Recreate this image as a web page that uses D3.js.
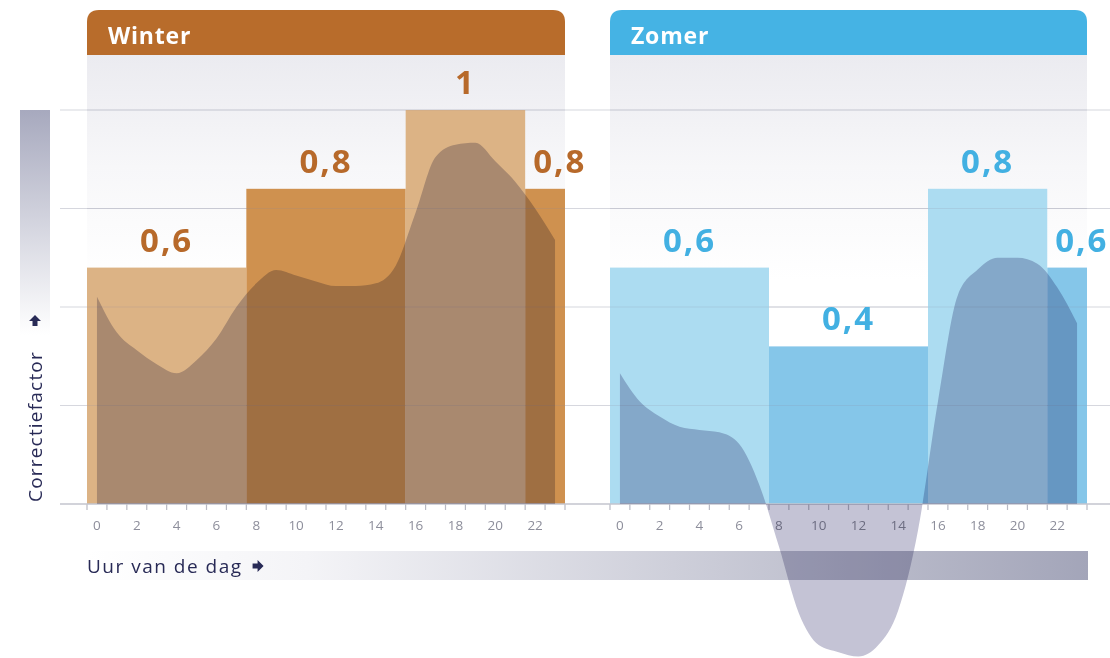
<!DOCTYPE html>
<html>
<head>
<meta charset="utf-8">
<script src="https://cdn.jsdelivr.net/npm/d3@7/dist/d3.min.js"></script>
<style>
  body { margin: 0; background: #fff; }
  svg { display: block; font-family: "Open Sans", sans-serif; }
</style>
</head>
<body>
<svg id="chart"></svg>
<script>
// Tariff blocks (hours of the day)
var segStart = [0, 8, 16, 22]
var segEnd = [8, 16, 22, 24]
var winterFactor = [0.6, 0.8, 1, 0.8]
var summerFactor = [0.6, 0.4, 0.8, 0.6]
var winterLabels = ["0,6", "0,8", "1", "0,8"]
var summerLabels = ["0,6", "0,4", "0,8", "0,6"]

// Load profile per hour (drawn at the middle of each hour)
var hours = [0, 1, 2, 3, 4, 5, 6, 7, 8, 9, 10, 11, 12, 13, 14, 15, 16, 17, 18, 19, 20, 21, 22, 23]
var winterLoad = [0.526, 0.435, 0.39, 0.355, 0.332, 0.365, 0.42, 0.5, 0.56, 0.594, 0.58, 0.565,
                  0.553, 0.553, 0.56, 0.605, 0.74, 0.881, 0.912, 0.917, 0.87, 0.818, 0.75, 0.67]
var summerLoad = [0.332, 0.26, 0.222, 0.196, 0.188, 0.182, 0.152, 0.05, -0.108, -0.277, -0.358, -0.376,
                  -0.387, -0.358, -0.27, -0.066, 0.26, 0.53, 0.595, 0.625, 0.625, 0.61, 0.55, 0.459]

var tickLabels = [0, 2, 4, 6, 8, 10, 12, 14, 16, 18, 20, 22]
var tickHours = [0, 1, 2, 3, 4, 5, 6, 7, 8, 9, 10, 11, 12, 13, 14, 15, 16, 17, 18, 19, 20, 21, 22, 23, 24]
var gridValues = [0.25, 0.5, 0.75, 1]

var dimensions = { width: 1110, height: 658 }
var navy = "#282a56"

var svg = d3.select("#chart")
    .attr("width", dimensions.width)
    .attr("height", dimensions.height)

var defs = svg.append("defs")

var y = d3.scaleLinear().domain([0, 1]).range([504, 110])

var panels = [
    { name: "Winter", left: 87, right: 565, head: "#b86c2b", text: "#b7692a",
      light: "#dcb385", dark: "#cf914f", factor: winterFactor, labels: winterLabels, load: winterLoad },
    { name: "Zomer", left: 610, right: 1087, head: "#45b3e4", text: "#42b0e2",
      light: "#acdcf1", dark: "#85c6e9", factor: summerFactor, labels: summerLabels, load: summerLoad }
]

// gradients
var panelGrad = defs.append("linearGradient").attr("id", "panelGrad")
    .attr("x1", 0).attr("x2", 0).attr("y1", 0).attr("y2", 1)
panelGrad.append("stop").attr("offset", "0%").attr("stop-color", "#ebebf0")
panelGrad.append("stop").attr("offset", "25%").attr("stop-color", "#f7f7f9")
panelGrad.append("stop").attr("offset", "50%").attr("stop-color", "#ffffff")

var yLabGrad = defs.append("linearGradient").attr("id", "yLabGrad")
    .attr("x1", 0).attr("x2", 0).attr("y1", 0).attr("y2", 1)
yLabGrad.append("stop").attr("offset", "0%").attr("stop-color", "#a7a9be")
yLabGrad.append("stop").attr("offset", "100%").attr("stop-color", "#ffffff")

var xLabGrad = defs.append("linearGradient").attr("id", "xLabGrad")
    .attr("x1", 0).attr("x2", 1).attr("y1", 0).attr("y2", 0)
xLabGrad.append("stop").attr("offset", "0%").attr("stop-color", "#ffffff")
xLabGrad.append("stop").attr("offset", "22%").attr("stop-color", "#f4f4f7")
xLabGrad.append("stop").attr("offset", "100%").attr("stop-color", "#a3a5b9")

// y label band
svg.append("rect")
    .attr("x", 20).attr("y", 110).attr("width", 30).attr("height", 225)
    .attr("fill", "url(#yLabGrad)")

// x label band
svg.append("rect")
    .attr("x", 87).attr("y", 551).attr("width", 1001).attr("height", 29)
    .attr("fill", "url(#xLabGrad)")

panels.forEach(p => {
    var x = d3.scaleLinear().domain([0, 24]).range([p.left, p.right])
    p.x = x

    // header with rounded top corners
    var r = 12, top = 10, bot = 55
    svg.append("path")
        .attr("d", `M${p.left},${bot} L${p.left},${top + r} Q${p.left},${top} ${p.left + r},${top}
                    L${p.right - r},${top} Q${p.right},${top} ${p.right},${top + r} L${p.right},${bot} Z`)
        .attr("fill", p.head)
    svg.append("text")
        .attr("x", p.left + 21).attr("y", 44)
        .text(p.name)
        .style("fill", "#fff")
        .style("font-size", "23px")
        .style("font-weight", 700)
        .style("letter-spacing", "0.8px")

    // light panel under header
    svg.append("rect")
        .attr("x", p.left).attr("y", bot).attr("width", p.right - p.left).attr("height", y(0) - bot)
        .attr("fill", "url(#panelGrad)")
})

// grid lines across the whole width
svg.selectAll(".grid")
    .data(gridValues)
    .enter()
    .append("line")
    .attr("x1", 60).attr("x2", dimensions.width)
    .attr("y1", d => y(d)).attr("y2", d => y(d))
    .attr("stroke", "#d6d7de")
    .attr("stroke-width", 1.2)

panels.forEach(p => {
    var x = p.x
    var idx = [0, 1, 2, 3]

    svg.append("g").selectAll("rect")
        .data(idx)
        .enter()
        .append("rect")
        .attr("x", i => x(segStart[i]))
        .attr("width", i => x(segEnd[i]) - x(segStart[i]))
        .attr("y", i => y(p.factor[i]))
        .attr("height", i => y(0) - y(p.factor[i]))
        .attr("fill", i => i % 2 == 0 ? p.light : p.dark)

    // faint grid visible over the bars
    svg.append("g").selectAll("line")
        .data(gridValues)
        .enter()
        .append("line")
        .attr("x1", p.left).attr("x2", p.right)
        .attr("y1", d => y(d)).attr("y2", d => y(d))
        .attr("stroke", "#8a8aa0")
        .attr("stroke-opacity", 0.18)

    // factor labels
    svg.append("g").selectAll("text")
        .data(idx)
        .enter()
        .append("text")
        .attr("x", i => i == 3 ? x(segStart[i]) + 8 : (x(segStart[i]) + x(segEnd[i])) / 2)
        .attr("y", i => y(p.factor[i]) - 16)
        .style("text-anchor", i => i == 3 ? "start" : "middle")
        .style("font-size", "33px")
        .style("font-weight", 700)
        .style("letter-spacing", "2px")
        .style("fill", p.text)
        .text(i => p.labels[i])

    // axis ticks
    svg.append("g").selectAll("line")
        .data(tickHours)
        .enter()
        .append("line")
        .attr("x1", d => x(d)).attr("x2", d => x(d))
        .attr("y1", y(0)).attr("y2", y(0) + 6)
        .attr("stroke", "#b9bac4")
        .attr("stroke-width", 1.2)

    svg.append("g").selectAll("text")
        .data(tickLabels)
        .enter()
        .append("text")
        .attr("x", d => x(d + 0.5))
        .attr("y", 530)
        .style("text-anchor", "middle")
        .style("font-size", "13.5px")
        .style("fill", "#8d8e9b")
        .text(d => d)
})

// axis line
svg.append("line")
    .attr("x1", 60).attr("x2", dimensions.width)
    .attr("y1", y(0)).attr("y2", y(0))
    .attr("stroke", "#c3c4ce")
    .attr("stroke-width", 1.5)

// axis titles
var yTitle = svg.append("text")
    .attr("transform", `translate(42, ${y(0) - 2}) rotate(-90)`)
    .style("font-size", "19px")
    .style("letter-spacing", "1.2px")
    .style("fill", navy)
    .text("Correctiefactor")
var yLen = yTitle.node().getComputedTextLength()
var ay = y(0) - yLen - 32
svg.append("path")
    .attr("d", `M35,${ay - 6} L41,${ay} L37.5,${ay} L37.5,${ay + 5} L32.5,${ay + 5} L32.5,${ay} L29,${ay} Z`)
    .attr("fill", navy)

var xTitle = svg.append("text")
    .attr("x", 87).attr("y", 573)
    .style("font-size", "19px")
    .style("letter-spacing", "1.5px")
    .style("fill", navy)
    .text("Uur van de dag")
var xLen = xTitle.node().getComputedTextLength()
var ax = 87 + xLen + 10, am = 566
svg.append("path")
    .attr("d", `M${ax + 11},${am} L${ax + 5},${am - 6} L${ax + 5},${am - 2.5} L${ax},${am - 2.5} L${ax},${am + 2.5} L${ax + 5},${am + 2.5} L${ax + 5},${am + 6} Z`)
    .attr("fill", navy)

// load profile areas on top
panels.forEach(p => {
    var x = p.x
    var area = d3.area()
        .x(d => x(d + 0.5))
        .y0(y(0))
        .y1(d => y(p.load[d]))
        .curve(d3.curveMonotoneX)
    svg.append("path")
        .datum(hours)
        .attr("d", area)
        .attr("fill", "#c4c3d5")
        .style("mix-blend-mode", "multiply")
})
</script>
</body>
</html>
